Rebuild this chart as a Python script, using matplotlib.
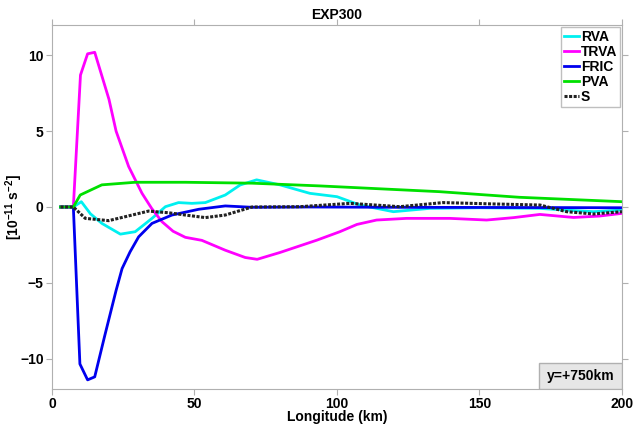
import matplotlib
matplotlib.use("Agg")
import matplotlib.pyplot as plt
from matplotlib.patches import Rectangle

plt.rcParams["font.family"] = ["Liberation Sans", "DejaVu Sans"]
plt.rcParams["font.weight"] = "bold"
plt.rcParams["mathtext.fontset"] = "custom"
plt.rcParams["mathtext.rm"] = "Liberation Sans:bold"
plt.rcParams["mathtext.bf"] = "Liberation Sans:bold"
plt.rcParams["mathtext.it"] = "Liberation Sans:bold"

# values (x in km, y in 1e-11 s^-2)
trva_x = [3, 7.5, 10, 12.5, 15, 20, 22.5, 26.9, 31.6, 35, 38.6, 42.5, 46.8, 52.6, 60.8, 67.8, 72, 80, 92.9, 101, 107, 113.9, 124.4, 139.6, 152.5, 162, 171.2, 183, 192, 200]
trva_y = [0, 0, 8.7, 10.1, 10.2, 7.1, 5.0, 2.67, 0.9, -0.1, -0.97, -1.6, -2.0, -2.2, -2.85, -3.33, -3.45, -3.0, -2.19, -1.63, -1.15, -0.86, -0.75, -0.75, -0.86, -0.7, -0.49, -0.69, -0.6, -0.42]

fric_x = [3, 7.5, 9.8, 12.5, 15, 18.5, 22.5, 24.6, 27.4, 30.4, 35.1, 42.1, 51.5, 60.8, 70.2, 90, 120, 150, 180, 200]
fric_y = [0, 0, -10.35, -11.4, -11.2, -8.5, -5.5, -4.06, -2.96, -1.97, -1.08, -0.53, -0.15, 0.07, -0.02, 0.0, -0.02, -0.03, -0.04, -0.05]

rva_x = [3, 7.5, 10.3, 13.5, 17.5, 24, 29.2, 35.1, 39.8, 44.4, 49.1, 53.8, 60.8, 66, 71.8, 80, 90.5, 100, 108, 119.8, 132.6, 150, 171, 180, 190, 200]
rva_y = [0, 0, 0.35, -0.45, -1.08, -1.79, -1.63, -0.75, 0.02, 0.29, 0.24, 0.29, 0.79, 1.45, 1.79, 1.46, 0.9, 0.68, 0.13, -0.31, -0.09, -0.05, -0.09, -0.2, -0.31, -0.2]

pva_x = [3, 7.5, 9.9, 17.5, 29.2, 46.8, 70.2, 94, 136, 164, 200]
pva_y = [0, 0, 0.79, 1.46, 1.63, 1.63, 1.57, 1.39, 1.01, 0.64, 0.35]

s_x = [3, 7.5, 11.7, 19.9, 25.7, 33.9, 40.9, 46.8, 53.8, 60.8, 70.2, 87, 104.6, 122, 137.2, 155, 171.2, 180.6, 190, 200]
s_y = [0, 0, -0.75, -0.9, -0.64, -0.27, -0.38, -0.53, -0.7, -0.53, 0.0, 0.02, 0.24, 0.02, 0.29, 0.2, 0.13, -0.31, -0.46, -0.31]

fig = plt.figure(figsize=(6.33, 4.26), dpi=100)
ax = fig.add_axes([0.0821, 0.0869, 0.9005, 0.8544])

ax.plot(rva_x, rva_y, color="#00f0f0", lw=2, label="RVA")
ax.plot(trva_x, trva_y, color="#ff00ff", lw=2, label="TRVA")
ax.plot(fric_x, fric_y, color="#0000ee", lw=2, label="FRIC")
ax.plot(pva_x, pva_y, color="#00e000", lw=2, label="PVA")
ax.plot(s_x, s_y, color="#222222", lw=2.2, ls=(0, (1.0, 0.5)), label="S")

ax.set_xlim(0, 200)
ax.set_ylim(-12, 12)
ax.set_xticks([0, 50, 100, 150, 200])
ax.set_yticks([-10, -5, 0, 5, 10])
for sp in ax.spines.values():
    sp.set_color("#b0b0b0")
ax.tick_params(direction="out", length=4, color="#b0b0b0", labelsize=10, pad=2,
               top=True, right=True, labeltop=False, labelright=False)

ax.set_title("EXP300", fontsize=10, fontweight="bold", pad=4)
ax.set_xlabel("Longitude (km)", fontsize=10, fontweight="bold", labelpad=-1)
ax.set_ylabel("[10$^{-11}$ s$^{-2}$]", fontsize=10, fontweight="bold")
ax.yaxis.set_label_coords(-0.047, 0.5)

leg = ax.legend(loc="upper right", fontsize=10, handlelength=1.05, handletextpad=0.15,
                borderpad=0.2, labelspacing=0.08, fancybox=False, borderaxespad=0.15)
leg.get_frame().set_edgecolor("#b0b0b0")
leg.get_frame().set_linewidth(1)

# label box in the lower right corner
ax.add_patch(Rectangle((0.8544, 0), 0.1456, 0.0714, transform=ax.transAxes,
                       facecolor="#e6e6e6", edgecolor="#b0b0b0", lw=1, zorder=5))
ax.text(0.927, 0.0357, "y=+750km", transform=ax.transAxes, ha="center", va="center",
        fontsize=10, fontweight="bold", zorder=6)

fig.savefig("out.png", dpi=100)
